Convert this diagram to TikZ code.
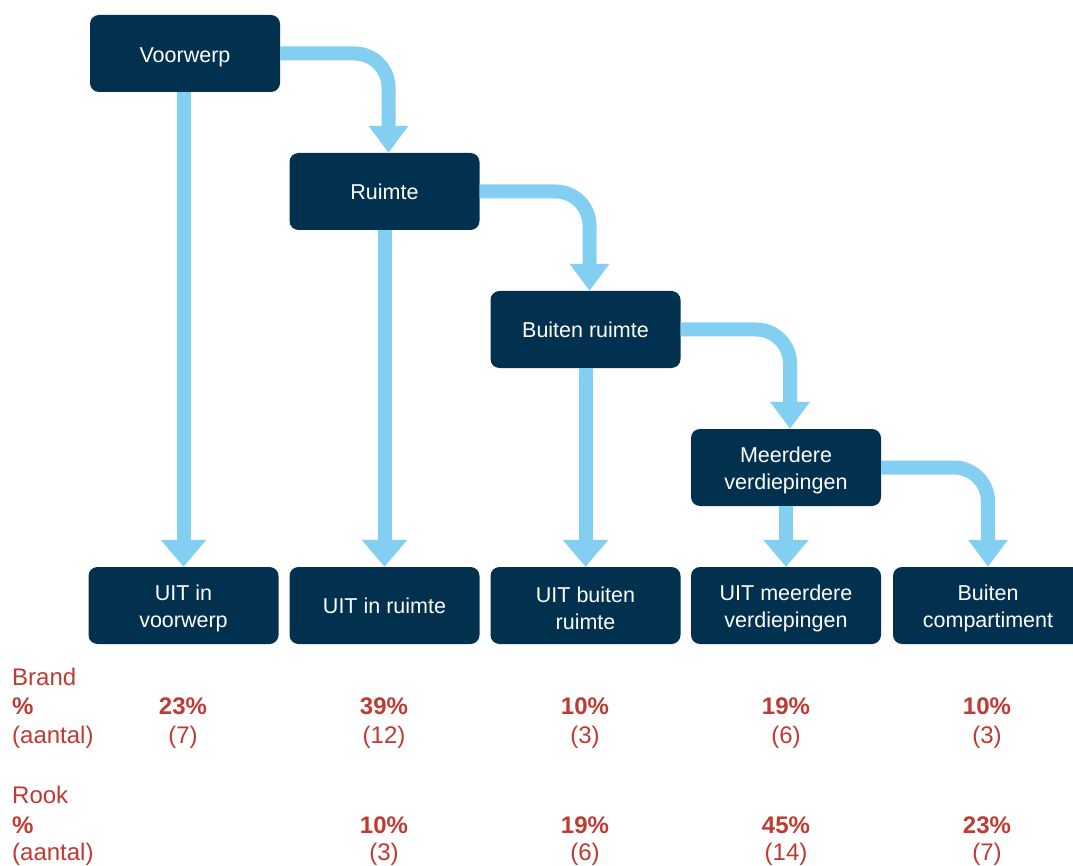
\documentclass[tikz,border=0pt]{standalone}
\usepackage{fontspec}
\setmainfont{Liberation Sans}
\usetikzlibrary{arrows.meta}
\definecolor{navy}{RGB}{1,49,79}
\definecolor{sky}{RGB}{130,207,242}
\definecolor{rust}{RGB}{190,58,50}
\newcommand{\upstrut}{\rule{0pt}{22pt}}
\begin{document}
\begin{tikzpicture}[x=1pt,y=-1pt,
  box/.style={fill=navy, text=white, rounded corners=9pt, minimum width=190pt, minimum height=77pt, inner sep=0pt, align=center, font=\fontsize{21.5}{27}\selectfont},
  flow/.style={draw=sky, line width=14pt, -{Triangle[width=44pt,length=27pt]}},
  elbow/.style={draw=sky, line width=14pt, rounded corners=34pt, -{Triangle[width=38pt,length=27pt]}},
  lab/.style={text=rust, font=\fontsize{24}{28}\selectfont, inner sep=0pt, anchor=west},
  pct/.style={text=rust, font=\fontsize{24}{28}\selectfont\bfseries, inner sep=0pt},
  cnt/.style={text=rust, font=\fontsize{24}{28}\selectfont, inner sep=0pt}]
\clip (0,0) rectangle (1073,866);
% top chain
\node[box] (voorwerp) at (185,53.5) {\upstrut Voorwerp};
\node[box] (ruimte) at (384.5,191.5) {Ruimte};
\node[box] (buitenr) at (585.5,329.5) {Buiten ruimte};
\node[box] (meerdere) at (786,467.5) {\upstrut Meerdere\\verdiepingen};
% bottom row
\node[box] (uitv) at (183.5,605.5) {\upstrut UIT in\\voorwerp};
\node[box] (uitr) at (384.5,605.5) {UIT in ruimte};
\node[box] (uitb) at (585.5,605.5) {\upstrut UIT buiten\\ruimte};
\node[box] (uitm) at (786,605.5) {\upstrut UIT meerdere\\verdiepingen};
\node[box] (comp) at (988,605.5) {\upstrut Buiten\\compartiment};
% straight arrows
\draw[flow] (voorwerp.south -| uitv.north) -- (uitv.north);
\draw[flow] (ruimte.south) -- (uitr.north);
\draw[flow] (buitenr.south) -- (uitb.north);
\draw[flow] (meerdere.south) -- (uitm.north);
% bent arrows
\draw[elbow] (voorwerp.east) -| ([xshift=4pt]ruimte.north);
\draw[elbow] (ruimte.east) -| ([xshift=4pt]buitenr.north);
\draw[elbow] (buitenr.east) -| ([xshift=4pt]meerdere.north);
\draw[elbow] (meerdere.east) -| (comp.north);
% table
\node[lab] (brand) at (12,677) {Brand};
\node[lab, font=\fontsize{24}{28}\selectfont\bfseries] (bpct) at (12,706) {\%};
\node[lab] (bcnt) at (12,737) {(aantal)};
\node[lab] (rook) at (12,795) {Rook};
\node[lab, font=\fontsize{24}{28}\selectfont\bfseries] (rpct) at (12,825) {\%};
\node[lab] (rcnt) at (12,854) {(aantal)};
\node[pct] (b1) at (183,706) {23\%};
\node[cnt] (b1n) at (183,737) {(7)};
\node[pct] (b2) at (384,706) {39\%};
\node[cnt] (b2n) at (384,737) {(12)};
\node[pct] (b3) at (585,706) {10\%};
\node[cnt] (b3n) at (585,737) {(3)};
\node[pct] (b4) at (786,706) {19\%};
\node[cnt] (b4n) at (786,737) {(6)};
\node[pct] (b5) at (987,706) {10\%};
\node[cnt] (b5n) at (987,737) {(3)};
\node[pct] (r2) at (384,825) {10\%};
\node[cnt] (r2n) at (384,854) {(3)};
\node[pct] (r3) at (585,825) {19\%};
\node[cnt] (r3n) at (585,854) {(6)};
\node[pct] (r4) at (786,825) {45\%};
\node[cnt] (r4n) at (786,854) {(14)};
\node[pct] (r5) at (987,825) {23\%};
\node[cnt] (r5n) at (987,854) {(7)};
\end{tikzpicture}
\end{document}
